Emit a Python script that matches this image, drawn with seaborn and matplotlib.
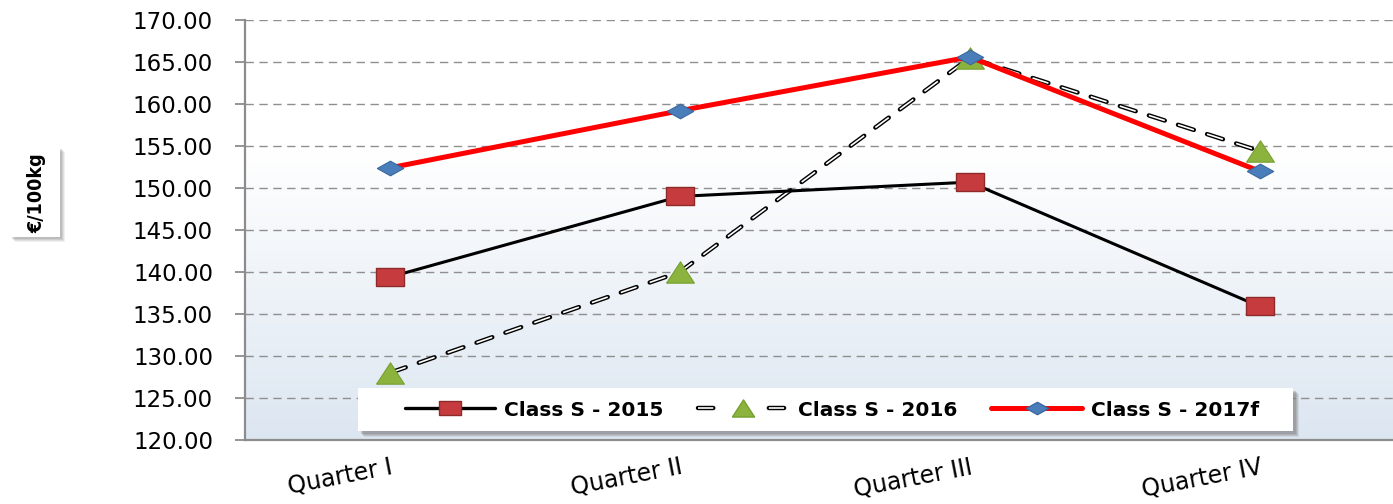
import numpy as np
import pandas as pd
import matplotlib
matplotlib.use("Agg")
import matplotlib.pyplot as plt
import seaborn as sns
from matplotlib.lines import Line2D
from matplotlib.legend_handler import HandlerTuple
from matplotlib.patches import Rectangle
from matplotlib import font_manager

# ---- data ----
quarters = ["Quarter I", "Quarter II", "Quarter III", "Quarter IV"]
class_s_2015 = [139.4, 149.0, 150.7, 135.9]
class_s_2016 = [128.0, 140.0, 165.5, 154.4]
class_s_2017f = [152.4, 159.2, 165.6, 152.0]
series_names = ["Class S - 2015", "Class S - 2016", "Class S - 2017f"]
y_ticks = [120, 125, 130, 135, 140, 145, 150, 155, 160, 165, 170]
y_label = "€/100kg"

sns.set_theme(style="white")
plt.rcParams["font.family"] = ["DejaVu Sans"]
plt.rcParams["lines.scale_dashes"] = False
plt.rcParams["text.color"] = "black"
plt.rcParams["xtick.color"] = "black"
plt.rcParams["ytick.color"] = "black"

fonts = font_manager.fontManager.ttflist
names = {f.name for f in fonts}
narrow = "Liberation Sans Narrow" if "Liberation Sans Narrow" in names else None
dv_cond = any(f.name == "DejaVu Sans" and f.stretch in ("condensed", "semi-condensed")
              and f.weight in ("bold", 700) for f in fonts)

df = pd.DataFrame({
    "quarter": quarters * 3,
    "value": class_s_2015 + class_s_2016 + class_s_2017f,
    "series": [series_names[0]] * 4 + [series_names[1]] * 4 + [series_names[2]] * 4,
})

W, H = 1393, 504
fig = plt.figure(figsize=(W / 100, H / 100), dpi=100)
ax = fig.add_axes([245 / W, 64 / H, 1 - 245 / W, 420 / H])

# background gradient (white top -> light blue bottom)
grad = np.linspace(0, 1, 256).reshape(-1, 1)
top = np.array([1.0, 1.0, 1.0])
bot = np.array([0xdc, 0xe6, 0xf1]) / 255.0
t = np.clip(grad / 0.69, 0, 1)
img = (bot + (top - bot) * t).reshape(256, 1, 3)
ax.imshow(img, extent=[-0.5, 3.46, 120, 170], origin="lower", aspect="auto", zorder=0)

# grid
for yv in y_ticks[1:]:
    ax.axhline(yv, color="#8f8f8f", lw=1.0, ls=(0, (6, 4)), zorder=1)

d15 = df[df.series == series_names[0]]
d16 = df[df.series == series_names[1]]
d17 = df[df.series == series_names[2]]

rect = [(-1.5, -1), (1.5, -1), (1.5, 1), (-1.5, 1), (-1.5, -1)]
diam = [(-1.8, 0), (0, -1), (1.8, 0), (0, 1), (-1.8, 0)]
tri = [(-1.3, -1), (1.3, -1), (0, 1), (-1.3, -1)]

sns.lineplot(data=d15, x="quarter", y="value", ax=ax, color="black", lw=2.2,
             marker=rect, markersize=20, markerfacecolor="#c63c3e",
             markeredgecolor="#8e2a2a", markeredgewidth=1.0, zorder=4, legend=False)
sns.lineplot(data=d16, x="quarter", y="value", ax=ax, color="black", lw=3.2,
             zorder=3, legend=False)
ax.lines[-1].set_linestyle((0, (12, 10)))
ax.lines[-1].set_dash_capstyle("round")
sns.lineplot(data=d16, x="quarter", y="value", ax=ax, color="white", lw=1.2,
             zorder=3.1, legend=False)
ax.lines[-1].set_linestyle((0, (12, 10)))
ax.lines[-1].set_dash_capstyle("butt")
sns.lineplot(data=d16, x="quarter", y="value", ax=ax, lw=0,
             marker=tri, markersize=20, markerfacecolor="#8cb33e",
             markeredgecolor="#76a030", markeredgewidth=0.8, zorder=5, legend=False)
sns.lineplot(data=d17, x="quarter", y="value", ax=ax, color="#ff0000", lw=3.6,
             marker=diam, markersize=19, markerfacecolor="#4a7ebb",
             markeredgecolor="#3a68a0", markeredgewidth=0.8, zorder=6, legend=False)

ax.set_xlim(-0.5, 3.46)
ax.set_ylim(120, 170)
ax.set_yticks(y_ticks)
ax.set_yticklabels([f"{v:.2f}" for v in y_ticks], fontsize=16.5, color="black")
ax.set_xticks(range(4))
ax.set_xticklabels(quarters, rotation=11, ha="right", va="top",
                   rotation_mode="anchor", fontsize=17, color="black")
ax.set_xticks([-0.5, 0.5, 1.5, 2.5], minor=True)
ax.tick_params(axis="x", which="major", length=0, pad=11)
ax.tick_params(axis="x", which="minor", length=6, color="#8c8c8c", width=1.3, direction="out")
ax.tick_params(axis="y", which="major", length=7, color="#8c8c8c", width=1.3,
               direction="out", pad=16, left=True)
ax.set_xlabel("")
ax.set_ylabel("")
for s in ["top", "right"]:
    ax.spines[s].set_visible(False)
for s in ["left", "bottom"]:
    ax.spines[s].set_color("#8c8c8c")
    ax.spines[s].set_linewidth(1.6)

# legend box (white with soft shadow)
bx0, bx1, by0, by1 = 358, 1293, 388, 431
for k, a in [(6, 0.15), (5, 0.2), (4, 0.25), (3, 0.3)]:
    fig.patches.append(Rectangle(((bx0 + k) / W, 1 - (by1 + k) / H), (bx1 - bx0) / W,
                                 (by1 - by0) / H, transform=fig.transFigure,
                                 fc="#7a7a7a", ec="none", alpha=a, zorder=8))
fig.patches.append(Rectangle((bx0 / W, 1 - by1 / H), (bx1 - bx0) / W, (by1 - by0) / H,
                             transform=fig.transFigure, fc="white", ec="none", zorder=9))

h15 = Line2D([], [], color="black", lw=2.4, marker=rect, markersize=16,
             markerfacecolor="#c63c3e", markeredgecolor="#8e2a2a")
h16a = Line2D([], [], color="black", lw=3.2, ls=(0, (11, 40)), dash_capstyle="round")
h16b = Line2D([], [], color="white", lw=1.2, ls=(0, (11, 40)))
h16c = Line2D([], [], lw=0, marker=tri, markersize=16,
              markerfacecolor="#8cb33e", markeredgecolor="#76a030")
h17 = Line2D([], [], color="#ff0000", lw=3.6, marker=diam, markersize=16,
             markerfacecolor="#4a7ebb", markeredgecolor="#3a68a0")
leg = fig.legend([h15, (h16a, h16b, h16c), h17], series_names,
                 handler_map={tuple: HandlerTuple(ndivide=1, pad=0)},
                 loc="center", bbox_to_anchor=(832 / W, 1 - 410 / H), ncol=3,
                 prop={"weight": "bold", "size": 14.5}, handlelength=4.5,
                 handletextpad=0.45, columnspacing=1.7, frameon=False,
                 borderpad=0.2)
leg.set_zorder(10)

# y label in white box with shadow
bl0, bl1, bt0, bt1 = 10, 60, 147, 237
for k, a in [(5, 0.12), (4, 0.16), (3, 0.2), (2, 0.25)]:
    fig.patches.append(Rectangle(((bl0 + k) / W, 1 - (bt1 + k) / H), (bl1 - bl0) / W,
                                 (bt1 - bt0) / H, transform=fig.transFigure,
                                 fc="#8a8a8a", ec="none", alpha=a, zorder=1))
fig.patches.append(Rectangle((bl0 / W, 1 - bt1 / H), (bl1 - bl0) / W, (bt1 - bt0) / H,
                             transform=fig.transFigure, fc="white", ec="none", zorder=2))
if narrow:
    fig.text(37 / W, 1 - 193 / H, y_label, rotation=90, ha="center", va="center",
             fontsize=15, fontweight="bold", family=[narrow, "DejaVu Sans"], zorder=3)
elif dv_cond:
    fig.text(37 / W, 1 - 193 / H, y_label, rotation=90, ha="center", va="center",
             fontsize=14, fontweight="bold", fontstretch="condensed",
             family=["DejaVu Sans"], zorder=3)
else:
    fig.text(37 / W, 1 - 193 / H, y_label, rotation=90, ha="center", va="center",
             fontsize=13, fontweight="bold", family=["DejaVu Sans"], zorder=3)

fig.savefig("out.png", dpi=100)
